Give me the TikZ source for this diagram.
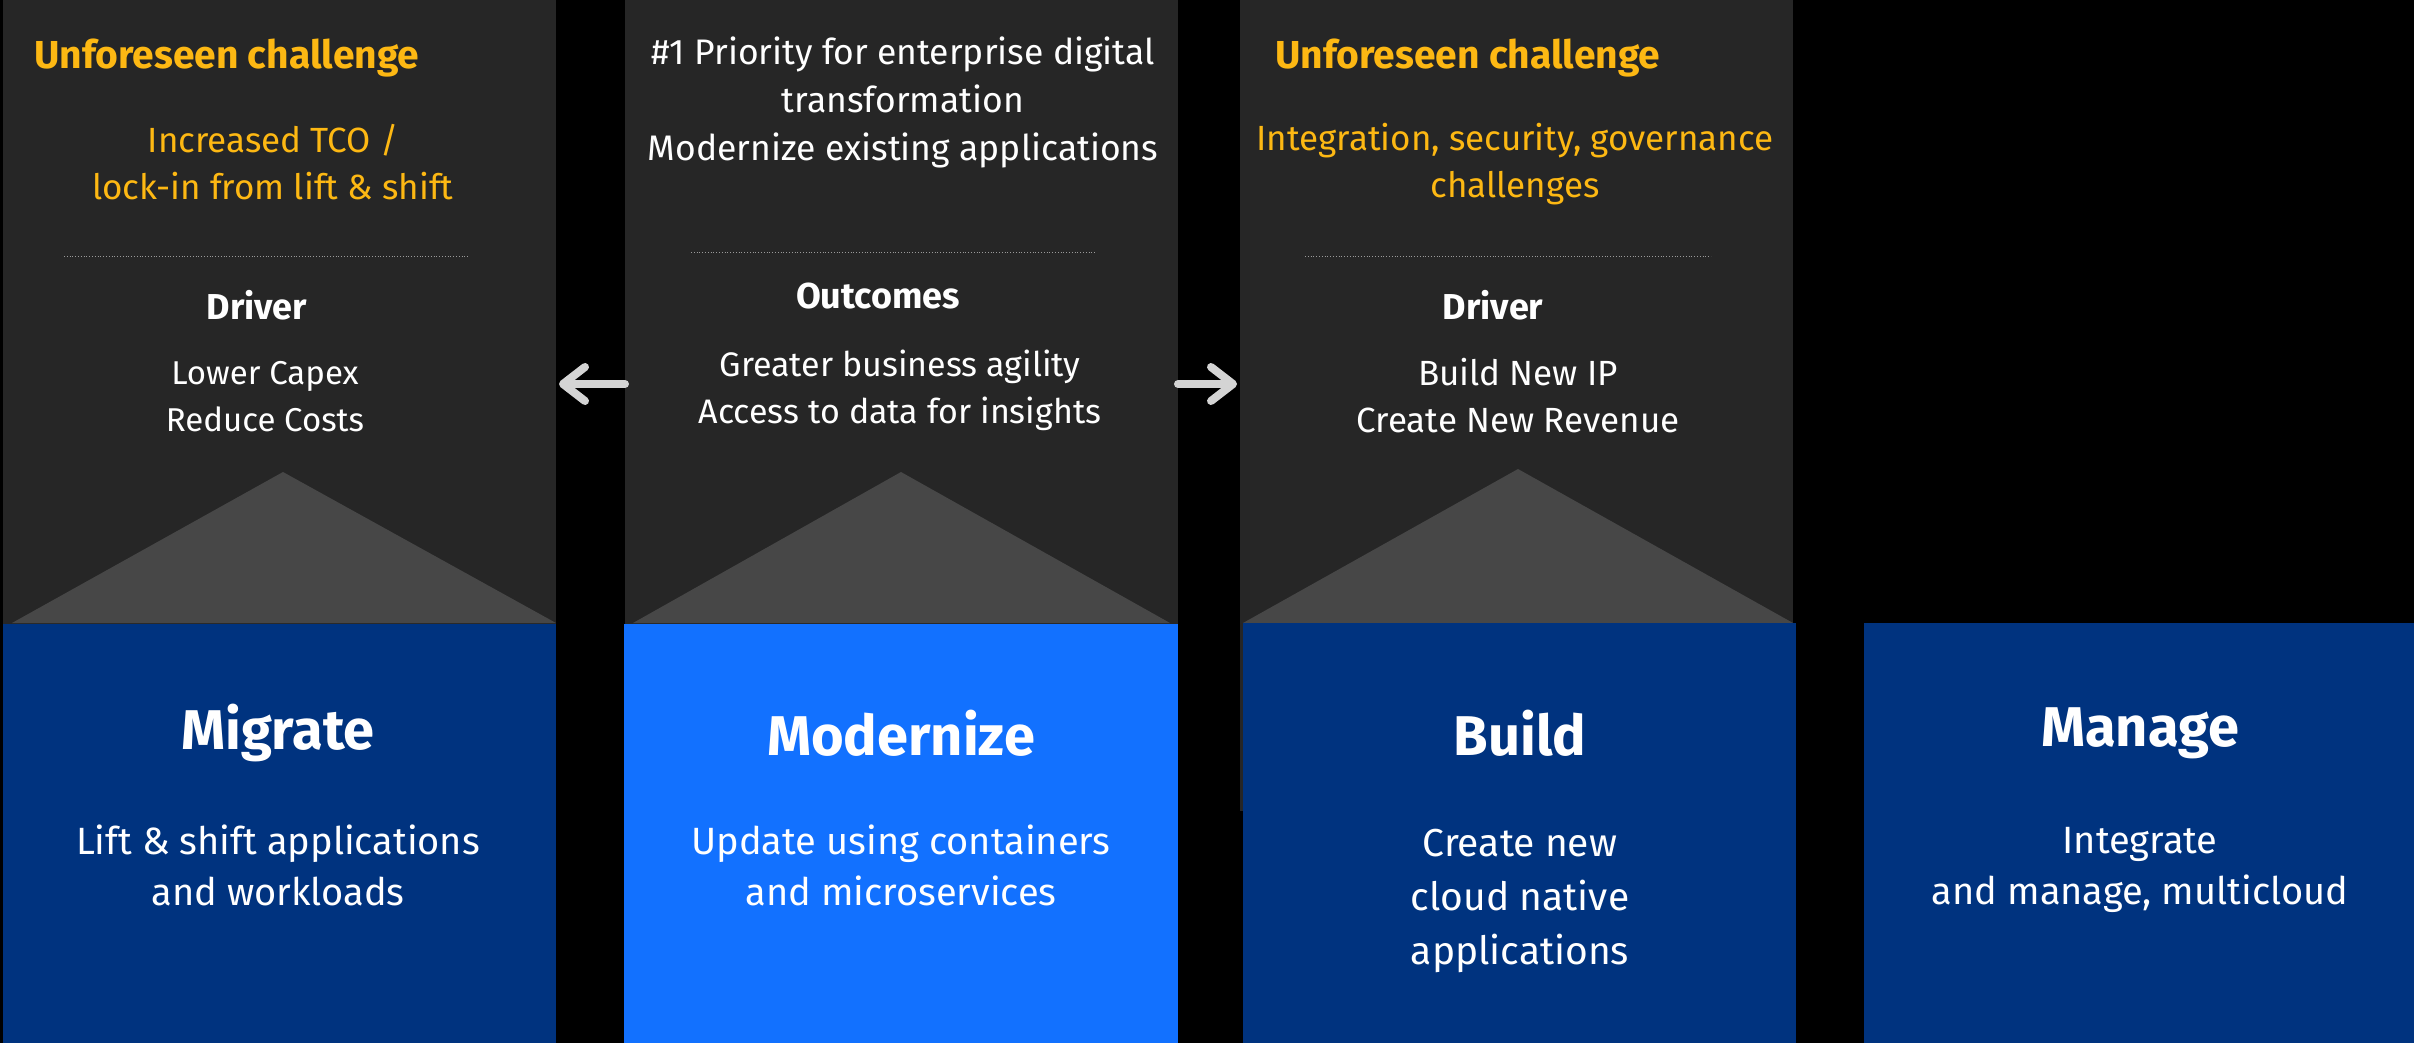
\documentclass[tikz,border=0pt]{standalone}
\usepackage{fontspec}
\setmainfont{Fira Sans}
\usetikzlibrary{arrows.meta,calc}
\definecolor{panelgray}{HTML}{262626}
\definecolor{trigray}{HTML}{474747}
\definecolor{darkblue}{HTML}{00337F}
\definecolor{brightblue}{HTML}{1271FF}
\definecolor{yel}{HTML}{FDB813}
\definecolor{arrgray}{HTML}{D4D4D4}
\definecolor{sepgray}{HTML}{9A9A9A}
\tikzset{
  panel/.style={fill=panelgray,draw=none,anchor=north west,inner sep=0,outer sep=0,minimum width=553pt},
  bluebox/.style={fill=darkblue,draw=none,anchor=north west,inner sep=0,outer sep=0},
  tri/.style={fill=trigray,draw=none},
  sep/.style={draw=sepgray,line width=0.8pt,dotted},
  arr/.style={draw=arrgray,line width=8pt,line cap=round,-{Straight Barb[length=22pt,width=34pt,line cap=round,line join=round]}},
  hdtxt/.style={text=yel,font=\bfseries\fontsize{39}{46}\selectfont,anchor=west,inner sep=0},
  yeltxt/.style={text=yel,font=\fontsize{35}{47}\selectfont,align=center,inner sep=0},
  drvtxt/.style={text=white,font=\bfseries\fontsize{36}{44}\selectfont,inner sep=0},
  bodytxt/.style={text=white,font=\fontsize{34}{47}\selectfont,align=center,inner sep=0},
  titletxt/.style={text=white,font=\bfseries\fontsize{56}{64}\selectfont,inner sep=0},
  boxtxt/.style={text=white,font=\fontsize{38}{51}\selectfont,align=center,inner sep=0}
}
\begin{document}
\begin{tikzpicture}[x=1pt,y=-1pt]
\fill[black] (0,0) rectangle (2414,1043);
\useasboundingbox (0,0) rectangle (2414,1043);
% dark panels
\node[panel,minimum height=624pt] (p1) at (3,0) {};
\node[panel,minimum height=624pt] (p2) at (625,0) {};
\node[panel,minimum height=811pt] (p3) at (1240,0) {};
% triangles
\fill[tri] (12,623) -- (283,472) -- (556,623) -- cycle;
\fill[tri] (633,623) -- (901,472) -- (1170,623) -- cycle;
\fill[tri] (1243,623) -- (1518,469) -- (1793,623) -- cycle;
% blue boxes
\node[bluebox,minimum width=553pt,minimum height=419pt] (b1) at (3,624) {};
\node[bluebox,fill=brightblue,minimum width=554pt,minimum height=419pt] (b2) at (624,624) {};
\node[bluebox,minimum width=553pt,minimum height=420pt] (b3) at (1243,623) {};
\node[bluebox,minimum width=550pt,minimum height=420pt] (b4) at (1864,623) {};
% separators
\draw[sep] (64,256) -- (469,256);
\draw[sep] (691,252) -- (1095,252);
\draw[sep] (1305,256) -- (1711,256);
% arrows
\coordinate (ay) at (0,384);
\draw[arr] (p2.west |- ay) -- ($(p1.east |- ay)+(3,0)$);
\draw[arr] (p2.east |- ay) -- ($(p3.west |- ay)+(-3,0)$);
% panel 1 text
\node[hdtxt] (u1) at (34,58) {Unforeseen challenge};
\node[yeltxt] (c1) at (273,162) {Increased TCO /\\lock-in from lift \& shift};
\node[drvtxt] (d1) at (257,305) {Driver};
\node[bodytxt,font=\fontsize{33}{47}\selectfont] (r1) at (265,397) {Lower Capex\\Reduce Costs};
% panel 2 text
\node[bodytxt,font=\fontsize{35.5}{48}\selectfont] (h2) at (903,102) {\#1 Priority for enterprise digital\\transformation\\Modernize existing applications};
\node[drvtxt] (o2) at (878,296) {Outcomes};
\node[bodytxt] (r2) at (900,390) {Greater business agility\\Access to data for insights};
% panel 3 text
\node[hdtxt] (u3) at (1275,58) {Unforeseen challenge};
\node[yeltxt] (c3) at (1515,164) {Integration, security, governance\\challenges};
\node[drvtxt] (d3) at (1493,305) {Driver};
\node[bodytxt,font=\fontsize{35}{47}\selectfont] (r3) at (1518,396) {Build New IP\\Create New Revenue};
% blue box text
\node[titletxt] (t1) at (278,733) {Migrate};
\node[boxtxt] (s1) at (278,865) {Lift \& shift applications\\and workloads};
\node[titletxt] (t2) at (901,733) {Modernize};
\node[boxtxt] (s2) at (901,865) {Update using containers\\and microservices};
\node[titletxt] (t3) at (1520,733) {Build};
\node[boxtxt,font=\fontsize{39}{54}\selectfont] (s3) at (1520,901) {Create new\\cloud native\\applications};
\node[titletxt] (t4) at (2140,733) {Manage};
\node[boxtxt] (s4) at (2140,870) {Integrate\\and manage, multicloud};
\end{tikzpicture}
\end{document}
